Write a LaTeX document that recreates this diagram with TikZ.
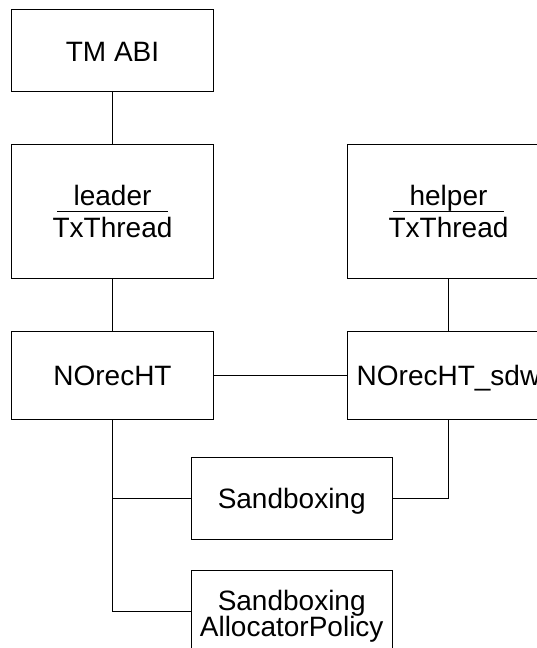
\documentclass[tikz,border=0pt]{standalone}
\usepackage{fontspec}
\setmainfont{Liberation Sans}
\begin{document}
\begin{tikzpicture}[x=1pt,y=-1pt,
  box/.style={draw=black,line width=0.9pt,rectangle,inner sep=0pt,minimum width=201.5pt},
  txt/.style={inner sep=0pt,font=\fontsize{28}{32}\selectfont},
  conn/.style={draw=black,line width=0.9pt}]
\useasboundingbox (0,0) rectangle (537,648);
\clip (0,0) rectangle (537,648);
% boxes
\node[box,minimum height=82pt] (tm) at (112.5,50) {};
\node[box,minimum height=134pt] (leader) at (112.5,211) {};
\node[box,minimum height=134pt] (helper) at (448.2,211) {};
\node[box,minimum height=88pt] (norec) at (112.5,375) {};
\node[box,minimum height=88pt] (sdw) at (448.2,375) {};
\node[box,minimum height=82pt] (sand) at (291.7,498) {};
\node[box,minimum height=82pt] (alloc) at (291.7,611) {};
% texts
\node[txt,anchor=base] (tmt) at (112.5,61) {TM ABI};
\node[txt,anchor=base] (leadert) at (112.5,205) {leader};
\node[txt,anchor=base] (leadertt) at (112.5,237) {TxThread};
\coordinate (lu1) at (57,211.5);
\coordinate (lu2) at (168,211.5);
\draw[conn] (lu1) -- (lu2);
\node[txt,anchor=base] (helpert) at (448.5,205) {helper};
\node[txt,anchor=base] (helpertt) at (448.5,237) {TxThread};
\coordinate (hu1) at (393,211.5);
\coordinate (hu2) at (504,211.5);
\draw[conn] (hu1) -- (hu2);
\node[txt,anchor=base] (norect) at (112.5,385) {NOrecHT};
\node[txt,anchor=base] (sdwt) at (448.5,385) {NOrecHT\_sdw};
\node[txt,anchor=base] (sandt) at (291.7,508.5) {Sandboxing};
\node[txt,anchor=base] (alloct1) at (291.7,610) {Sandboxing};
\node[txt,anchor=base] (alloct2) at (291.7,636.5) {AllocatorPolicy};
% connectors
\draw[conn] (tm.south) -- (leader.north);
\draw[conn] (leader.south) -- (norec.north);
\draw[conn] (norec.east) -- (sdw.west);
\draw[conn] (helper.south) -- (sdw.north);
\draw[conn] (sdw.south) |- (sand.east);
\coordinate (branch) at (norec.south |- sand.west);
\draw[conn] (norec.south) |- (alloc.west);
\draw[conn] (branch) -- (sand.west);
\end{tikzpicture}
\end{document}
